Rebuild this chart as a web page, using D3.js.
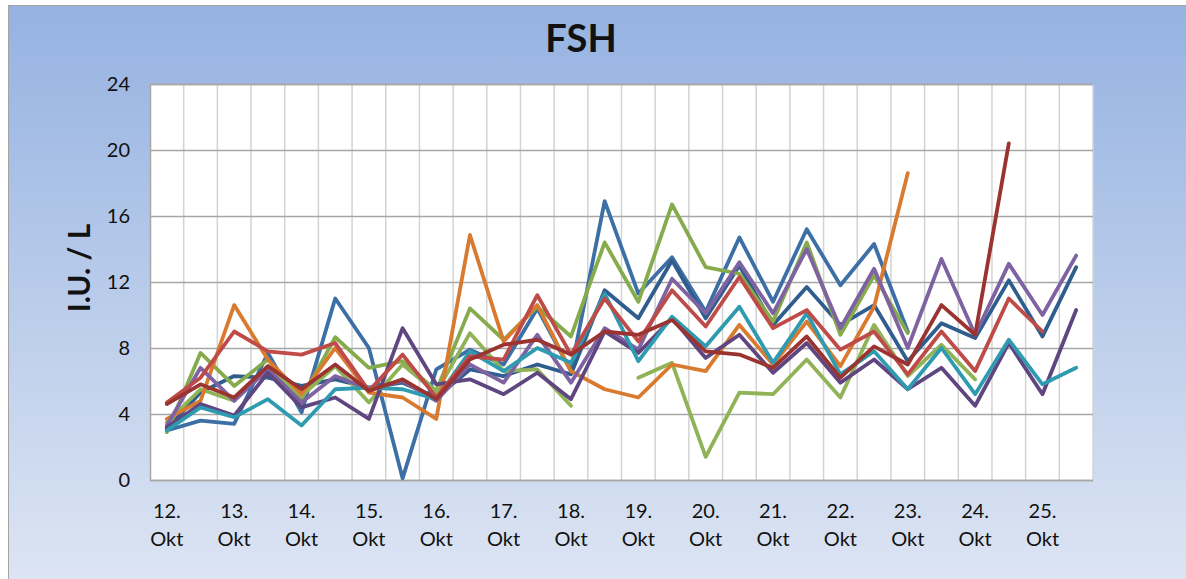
<!DOCTYPE html>
<html>
<head>
<meta charset="utf-8">
<script src="https://d3js.org/d3.v7.min.js"></script>
<style>
  body { margin: 0; background: #fff; }
  svg { display: block; }
  text { font-family: Lato, "Open Sans", sans-serif; fill: #111; }
</style>
</head>
<body>
<svg width="1186" height="579"></svg>
<script>
// day labels, one label per two measurements (morning / evening)
var days = ["12.", "13.", "14.", "15.", "16.", "17.", "18.", "19.", "20.", "21.", "22.", "23.", "24.", "25."];
var month = "Okt";
var yTicks = [0, 4, 8, 12, 16, 20, 24];

// FSH values in I.U./L, 28 points each (null = no measurement)
var blueA   = [3.0, 3.6, 3.4, 7.7, 4.1, 11.0, 8.0, 0.1, 6.7, 7.9, 7.0, 10.4, 6.6, 16.9, 11.3, 13.5, 10.2, 14.7, 10.8, 15.2, 11.8, 14.3, 9.0, null, null, null, null, null];
var blueB   = [3.1, 5.3, 6.3, 6.2, 5.7, 6.1, 5.6, 5.9, 5.0, 6.7, 6.3, 7.0, 6.4, 11.5, 9.8, 13.3, 9.8, 13.0, 9.4, 11.7, 9.4, 10.6, 7.2, 9.5, 8.6, 12.1, 8.7, 12.9];
var red     = [4.7, 6.2, 9.0, 7.8, 7.6, 8.3, 5.4, 7.6, 5.0, 7.5, 7.3, 11.2, 7.6, 11.0, 8.4, 11.5, 9.3, 12.3, 9.2, 10.3, 7.9, 9.0, 6.4, 9.0, 6.6, 11.0, 9.0, null];
var darkRed = [4.6, 5.8, 5.0, 6.9, 5.5, 7.0, 5.4, 6.1, 4.9, 7.3, 8.2, 8.5, 7.6, 9.0, 8.8, 9.7, 7.8, 7.6, 6.8, 8.7, 6.2, 8.1, 7.0, 10.6, 8.8, 20.4, null, null];
var green   = [2.9, 7.7, 5.7, 7.3, 4.9, 8.65, 6.8, 7.2, 5.4, 10.4, 8.5, 10.5, 8.7, 14.4, 10.8, 16.7, 12.9, 12.5, 9.6, 14.4, 8.8, 12.4, 8.9, null, null, null, null, null];
var green2  = [3.5, 5.5, 4.8, 6.9, 5.1, 6.9, 4.7, 7.0, 5.3, 8.9, 6.6, 6.7, 4.5, null, 6.2, 7.1, 1.4, 5.3, 5.2, 7.3, 5.0, 9.4, 6.3, 8.2, 6.1, null, null, null];
var purple  = [3.3, 6.8, 4.8, 6.7, 4.7, 6.3, 5.5, 6.0, 4.8, 7.0, 5.9, 8.8, 5.9, 9.2, 7.9, 12.2, 10.1, 13.2, 10.1, 14.0, 9.2, 12.8, 8.0, 13.4, 8.8, 13.1, 10.0, 13.6];
var dPurple = [3.2, 4.6, 3.9, 6.5, 4.4, 5.0, 3.7, 9.2, 5.8, 6.1, 5.2, 6.5, 4.9, 9.0, 7.7, 9.8, 7.4, 8.8, 6.5, 8.3, 5.9, 7.3, 5.5, 6.8, 4.5, 8.3, 5.2, 10.3];
var teal    = [3.0, 4.4, 3.8, 4.9, 3.3, 5.5, 5.6, 5.5, 4.9, 7.8, 6.6, 8.0, 7.1, 11.3, 7.2, 9.9, 8.1, 10.5, 7.1, 10.1, 6.4, 7.8, 5.5, 8.0, 5.2, 8.5, 5.8, 6.8];
var orange  = [3.7, 4.8, 10.6, 7.3, 5.2, 8.0, 5.3, 5.0, 3.7, 14.85, 8.4, 10.6, 6.6, 5.5, 5.0, 7.0, 6.6, 9.4, 7.0, 9.6, 6.9, 10.5, 18.6, null, null, null, null, null];

var series = [
  {name: "blueA", values: blueA, color: "#3b6fa6"},
  {name: "blueB", values: blueB, color: "#2f5e8e"},
  {name: "green", values: green, color: "#86ab4c"},
  {name: "green2", values: green2, color: "#8fb356"},
  {name: "orange", values: orange, color: "#d97a2e"},
  {name: "purple", values: purple, color: "#7e62a1"},
  {name: "dPurple", values: dPurple, color: "#604680"},
  {name: "teal", values: teal, color: "#2f9bb0"},
  {name: "red", values: red, color: "#be4b48"},
  {name: "darkRed", values: darkRed, color: "#9b3431"}
];

var svg = d3.select("svg"),
    width = +svg.attr("width"),
    height = +svg.attr("height");

var plotL = 150, plotR = 1093, plotT = 84, plotB = 480;

// chart background
var grad = svg.append("defs").append("linearGradient")
    .attr("id", "bg").attr("x1", 0).attr("y1", 0).attr("x2", 0).attr("y2", 1);
grad.append("stop").attr("offset", "0%").attr("stop-color", "#95b2e1");
grad.append("stop").attr("offset", "100%").attr("stop-color", "#dde5f3");

svg.append("rect")
    .attr("x", 8.5).attr("y", 5.5)
    .attr("width", width).attr("height", height)
    .attr("fill", "url(#bg)")
    .attr("stroke", "#a3a3a3");

svg.append("rect")
    .attr("x", plotL).attr("y", plotT)
    .attr("width", plotR - plotL).attr("height", plotB - plotT)
    .attr("fill", "#fff");

var idx = d3.range(blueB.length);

var x = d3.scalePoint()
    .domain(idx)
    .range([plotL, plotR])
    .padding(0.5);

var step = x.step();

var y = d3.scaleLinear()
    .domain([0, 24])
    .range([plotB, plotT]);

// vertical grid, between categories
svg.append("g")
    .selectAll("line")
    .data(idx)
    .enter().append("line")
    .attr("x1", function(d) { return x(d) + step / 2; })
    .attr("x2", function(d) { return x(d) + step / 2; })
    .attr("y1", plotT).attr("y2", plotB)
    .attr("stroke", "#d3d3d3")
    .attr("stroke-width", 1.5);

// horizontal grid + y labels
var yAxis = svg.append("g")
    .attr("transform", "translate(" + plotL + ",0)")
    .call(d3.axisLeft(y)
        .tickValues(yTicks)
        .tickSize(-(plotR - plotL))
        .tickPadding(20)
        .tickFormat(d3.format("d")));

yAxis.select(".domain").attr("stroke", "#a6a6a6").attr("stroke-width", 1.5);
yAxis.selectAll(".tick line").attr("stroke", "#a6a6a6").attr("stroke-width", 1.5);
yAxis.selectAll(".tick text")
    .attr("font-size", 20)
    .attr("font-family", "Lato, sans-serif")
    .attr("fill", "#111");

// x labels: day number on first line, month below
var xl = svg.append("g")
    .selectAll("text")
    .data(days)
    .enter().append("text")
    .attr("text-anchor", "middle")
    .attr("font-size", 20)
    .attr("transform", function(d, i) { return "translate(" + x(i * 2) + ",0)"; });

xl.append("tspan").attr("x", 0).attr("y", 518).text(function(d) { return d; });
xl.append("tspan").attr("x", 0).attr("y", 546).text(month);

// lines
var line = d3.line()
    .defined(function(d) { return d != null; })
    .x(function(d, i) { return x(i); })
    .y(function(d) { return y(d); });

svg.append("g")
    .selectAll("path")
    .data(series)
    .enter().append("path")
    .attr("fill", "none")
    .attr("stroke", function(d) { return d.color; })
    .attr("stroke-width", 3.8)
    .attr("stroke-linejoin", "round")
    .attr("stroke-linecap", "round")
    .attr("d", function(d) { return line(d.values); });

// titles
svg.append("text")
    .attr("x", 581).attr("y", 52)
    .attr("text-anchor", "middle")
    .attr("font-size", 38)
    .attr("font-weight", "bold")
    .text("FSH");

svg.append("text")
    .attr("transform", "translate(90,268) rotate(-90)")
    .attr("text-anchor", "middle")
    .attr("font-size", 30)
    .attr("font-weight", "bold")
    .text("I.U. / L");
</script>
</body>
</html>
